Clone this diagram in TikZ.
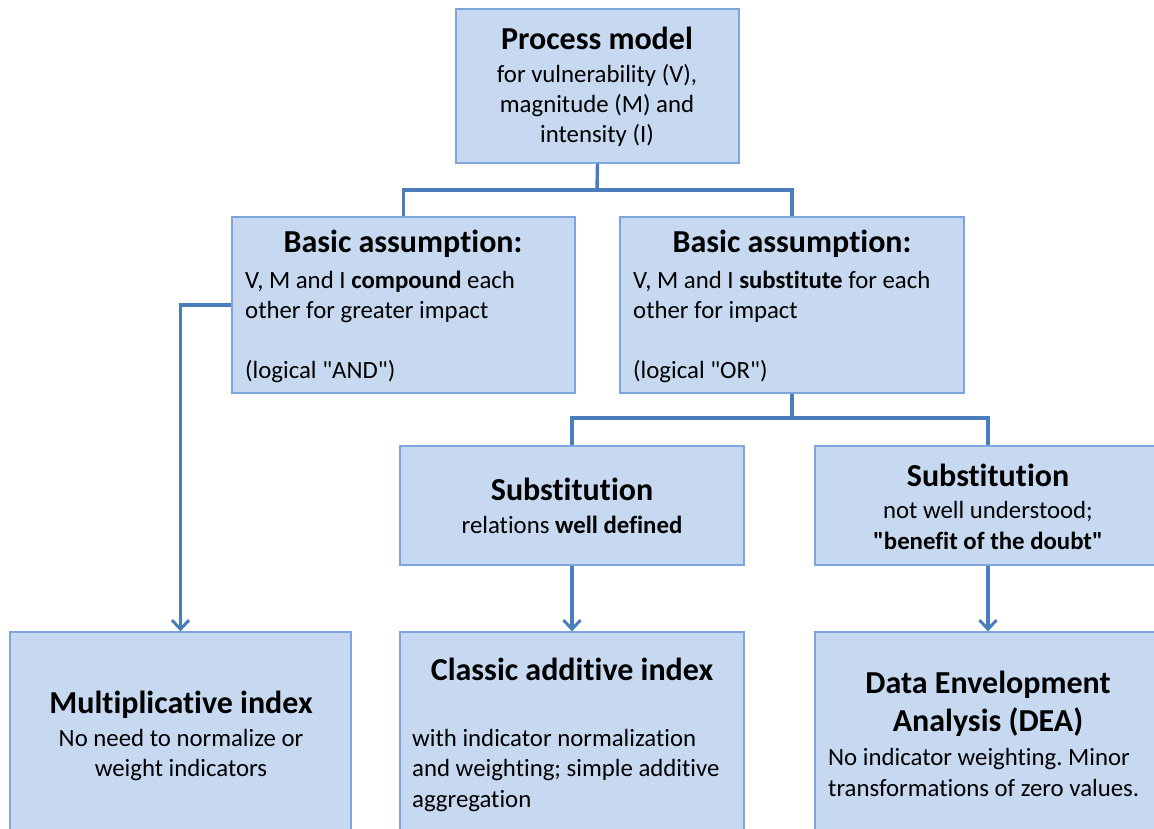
\documentclass[tikz,border=0pt]{standalone}
\usepackage{fontspec}
\setmainfont{Carlito}[Ligatures={TeX,NoCommon}]
\newfontfamily\qfont{Carlito}[Ligatures=NoCommon]
\usetikzlibrary{arrows.meta}
\definecolor{boxfill}{RGB}{198,217,240}
\definecolor{boxline}{RGB}{126,165,222}
\definecolor{connline}{RGB}{74,126,187}
\newcommand{\sq}{{\qfont\symbol{34}}}
\frenchspacing
\tikzset{
  box/.style={draw=boxline, fill=boxfill, line width=1.3pt, rectangle, inner sep=0pt},
  conn/.style={draw=connline, line width=3.4pt},
  arr/.style={conn, -{Straight Barb[length=9pt,width=17pt,line width=3pt]}},
  head/.style={inner sep=0pt, anchor=base, font=\fontsize{32}{38}\selectfont\bfseries},
  body/.style={inner sep=0pt, anchor=base, font=\fontsize{24.8}{30}\selectfont},
  bodyl/.style={inner sep=0pt, anchor=base west, font=\fontsize{24.8}{30}\selectfont},
}
\begin{document}
\begin{tikzpicture}[x=1pt,y=-1pt]
\useasboundingbox (0,0) rectangle (1154,829);
\clip (0,0) rectangle (1154,829);
% boxes
\node[box, minimum width=283pt, minimum height=154pt] (top) at (597.5,86) {};
\node[box, minimum width=343pt, minimum height=176pt] (bl) at (403.5,305) {};
\node[box, minimum width=344pt, minimum height=176pt] (br) at (792,305) {};
\node[box, minimum width=344pt, minimum height=119pt] (sl) at (572,505.5) {};
\node[box, minimum width=346pt, minimum height=119pt] (sr) at (988,505.5) {};
\node[box, minimum width=341pt, minimum height=220pt] (mult) at (180.5,742) {};
\node[box, minimum width=344pt, minimum height=220pt] (cl) at (572,742) {};
\node[box, minimum width=346pt, minimum height=220pt] (dea) at (988,742) {};
% connectors
\coordinate (j1) at (597,190);
\coordinate (j2) at (792,418);
\draw[conn] (top.south) -- (j1);
\draw[conn] (j1) -| (bl.north);
\draw[conn] (j1) -| (br.north);
\draw[conn] (br.south) -- (j2);
\draw[conn] (j2) -| (sl.north);
\draw[conn] (j2) -| (sr.north);
\draw[arr] (bl.west) -| (mult.north);
\draw[arr] (sl.south) -- (cl.north);
\draw[arr] (sr.south) -- (dea.north);
% texts: top
\node[head] (t1) at (597,50) {Process model};
\node[body] (t2) at (597,83) {for vulnerability (V),};
\node[body] (t3) at (597,113) {magnitude (M) and};
\node[body] (t4) at (597,143) {intensity (I)};
% basic assumption left
\node[head] (bl1) at (403,253) {Basic assumption:};
\node[bodyl] (bl2) at (245,288) {V, M and I \textbf{compound} each};
\node[bodyl] (bl3) at (245,318) {other for greater impact};
\node[bodyl] (bl4) at (245,378) {(logical \sq AND\sq)};
% basic assumption right
\node[head] (br1) at (792,253) {Basic assumption:};
\node[bodyl] (br2) at (633,288) {V, M and I \textbf{substitute} for each};
\node[bodyl] (br3) at (633,318) {other for impact};
\node[bodyl] (br4) at (633,378) {(logical \sq OR\sq)};
% substitution left
\node[head] (sl1) at (572,500) {Substitution};
\node[body] (sl2) at (572,533) {relations \textbf{well defined}};
% substitution right
\node[head] (sr1) at (988,486) {Substitution};
\node[body] (sr2) at (988,518) {not well understood;};
\node[body] (sr3) at (988,549) {\textbf{\sq benefit of the doubt\sq}};
% multiplicative
\node[head] (m1) at (181,713) {Multiplicative index};
\node[body] (m2) at (181,746) {No need to normalize or};
\node[body] (m3) at (181,776) {weight indicators};
% classic
\node[head] (c1) at (572,680) {Classic additive index};
\node[bodyl] (c2) at (412,746) {with indicator normalization};
\node[bodyl] (c3) at (412,776) {and weighting; simple additive};
\node[bodyl] (c4) at (412,807) {aggregation};
% DEA
\node[head] (d1) at (988,693) {Data Envelopment};
\node[head] (d2) at (988,731) {Analysis (DEA)};
\node[bodyl] (d3) at (828,765) {No indicator weighting. Minor};
\node[bodyl] (d4) at (828,796) {transformations of zero values.};
\end{tikzpicture}
\end{document}
